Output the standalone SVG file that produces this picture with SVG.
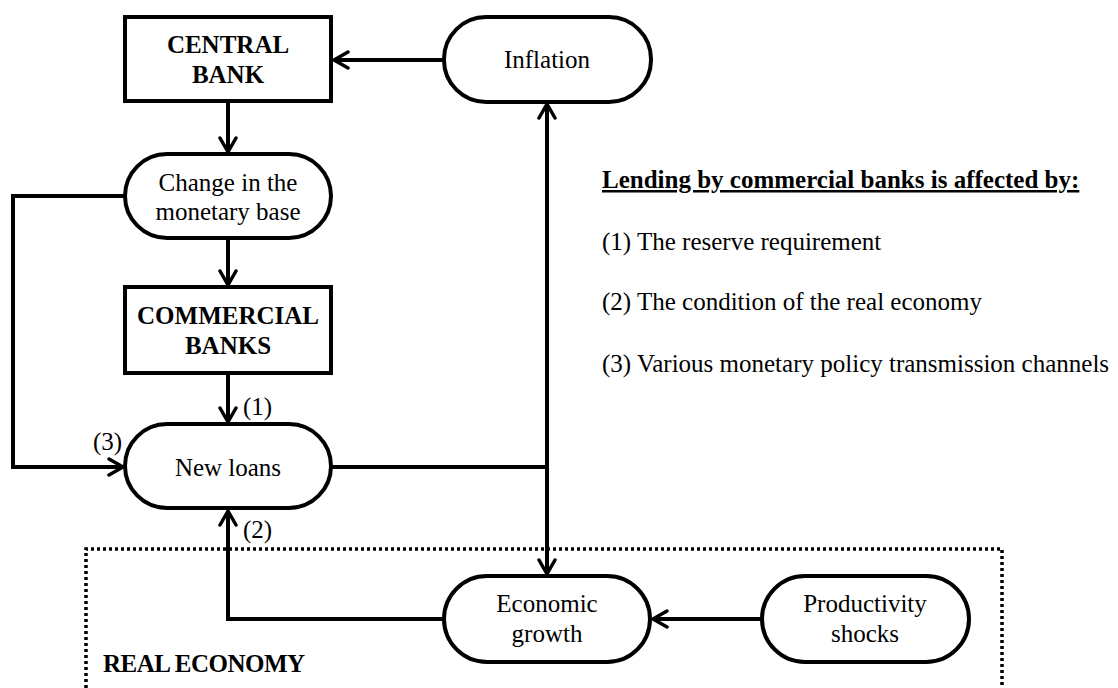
<svg xmlns="http://www.w3.org/2000/svg" width="1118" height="688" viewBox="0 0 1118 688">
<style>
.box{fill:#fff;stroke:#000;stroke-width:4}
.t{font-family:"Liberation Serif","Times New Roman",serif;font-size:25px;fill:#000}
.b{font-weight:bold}
.c{text-anchor:middle}
.ln{fill:none;stroke:#000;stroke-width:4}
</style>
<defs>
<marker id="ah" viewBox="0 0 18 20" refX="16" refY="10" markerWidth="18" markerHeight="20" markerUnits="userSpaceOnUse" orient="auto">
<path d="M2,2 L16,10 L2,18" fill="none" stroke="#000" stroke-width="3.5" stroke-linecap="round" stroke-linejoin="round"/>
</marker>
</defs>
<rect width="1118" height="688" fill="#fff"/>
<g id="real-economy">
<path d="M86,688 L86,549 L1002,549 L1002,688" fill="none" stroke="#000" stroke-width="3.5" stroke-dasharray="3,3"/>
<text class="t b" x="103" y="672" font-size="24" letter-spacing="-0.5">REAL ECONOMY</text>
</g>
<g id="connectors">
<line class="ln" x1="444" y1="60" x2="334" y2="60" marker-end="url(#ah)"/>
<line class="ln" x1="228" y1="101" x2="228" y2="152" marker-end="url(#ah)"/>
<line class="ln" x1="228" y1="238" x2="228" y2="285" marker-end="url(#ah)"/>
<line class="ln" x1="228" y1="373" x2="228" y2="422" marker-end="url(#ah)"/>
<polyline class="ln" points="127,196 13,196 13,467 123,467" marker-end="url(#ah)"/>
<polyline class="ln" points="331,467 547,467"/>
<line class="ln" x1="547" y1="467" x2="547" y2="104" marker-end="url(#ah)"/>
<line class="ln" x1="547" y1="467" x2="547" y2="574" marker-end="url(#ah)"/>
<line class="ln" x1="762" y1="619" x2="653" y2="619" marker-end="url(#ah)"/>
<polyline class="ln" points="444,619 228,619 228,511" marker-end="url(#ah)"/>
<text class="t" x="243" y="415">(1)</text>
<text class="t" x="243" y="538">(2)</text>
<text class="t" x="93" y="450">(3)</text>
</g>
<g id="central-bank">
<rect class="box" x="125" y="17" width="206" height="84"/>
<text class="t b c" x="228" y="53">CENTRAL</text>
<text class="t b c" x="228" y="83">BANK</text>
</g>
<g id="monetary-base">
<rect class="box" x="125" y="154" width="206" height="84" rx="42"/>
<text class="t c" x="228" y="191">Change in the</text>
<text class="t c" x="228" y="220">monetary base</text>
</g>
<g id="commercial-banks">
<rect class="box" x="125" y="287" width="206" height="86"/>
<text class="t b c" x="228" y="324">COMMERCIAL</text>
<text class="t b c" x="228" y="354">BANKS</text>
</g>
<g id="new-loans">
<rect class="box" x="125" y="424" width="206" height="84" rx="42"/>
<text class="t c" x="228" y="476">New loans</text>
</g>
<g id="inflation">
<rect class="box" x="444" y="17" width="207" height="85" rx="42"/>
<text class="t c" x="547" y="68">Inflation</text>
</g>
<g id="economic-growth">
<rect class="box" x="444" y="576" width="206" height="86" rx="43"/>
<text class="t c" x="547" y="612">Economic</text>
<text class="t c" x="547" y="642">growth</text>
</g>
<g id="productivity-shocks">
<rect class="box" x="762" y="576" width="207" height="86" rx="43"/>
<text class="t c" x="865" y="612">Productivity</text>
<text class="t c" x="865" y="642">shocks</text>
</g>
<g id="legend">
<text class="t b" x="602" y="188" text-decoration="underline">Lending by commercial banks is affected by:</text>
<text class="t" x="602" y="250">(1) The reserve requirement</text>
<text class="t" x="602" y="310">(2) The condition of the real economy</text>
<text class="t" x="602" y="372">(3) Various monetary policy transmission channels</text>
</g>
</svg>
